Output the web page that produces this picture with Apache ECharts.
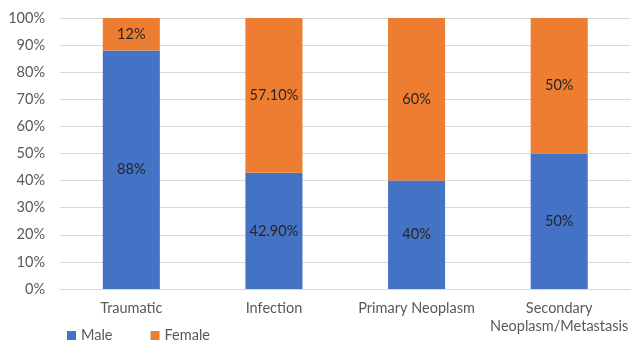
<!DOCTYPE html>
<html>
<head>
<meta charset="utf-8">
<script src="https://cdn.jsdelivr.net/npm/echarts@6/dist/echarts.min.js"></script>
<style>
  html, body { margin: 0; padding: 0; background: #fff; }
  #chart { width: 631px; height: 344px; }
</style>
</head>
<body>
<div id="chart"></div>
<script>
// Cause categories and share of patients by sex (percent)
const categories = ['Traumatic', 'Infection', 'Primary Neoplasm', 'Secondary\nNeoplasm/Metastasis'];
const maleValues = [88, 42.9, 40, 50];
const femaleValues = [12, 57.1, 60, 50];
const maleLabels = ['88%', '42.90%', '40%', '50%'];
const femaleLabels = ['12%', '57.10%', '60%', '50%'];
const yTicks = [0, 10, 20, 30, 40, 50, 60, 70, 80, 90, 100];

const FONT = 'Lato, "Open Sans", sans-serif';

const chart = echarts.init(document.getElementById('chart'), null, { renderer: 'canvas' });

function labelFrom(texts) {
  return {
    show: true,
    position: 'inside',
    color: '#262626',
    fontFamily: FONT,
    fontSize: 14.5,
    formatter: p => texts[p.dataIndex]
  };
}

chart.setOption({
  animation: false,
  grid: { left: 60, top: 18, width: 573, bottom: 55, containLabel: false },
  legend: {
    left: 62,
    top: 323,
    padding: [5, 5, 5, 5],
    itemWidth: 9,
    itemHeight: 9,
    itemGap: 38,
    icon: 'rect',
    textStyle: { color: '#595959', fontFamily: FONT, fontSize: 14.5 },
    data: ['Male', 'Female']
  },
  xAxis: {
    type: 'category',
    data: categories,
    axisLine: { lineStyle: { color: '#d9d9d9', width: 1 } },
    axisTick: { show: false },
    axisLabel: { color: '#595959', fontFamily: FONT, fontSize: 14.5, margin: 10, lineHeight: 18, interval: 0 }
  },
  yAxis: {
    type: 'value',
    min: yTicks[0],
    max: yTicks[yTicks.length - 1],
    interval: 10,
    axisLine: { show: false },
    axisTick: { show: false },
    splitLine: { lineStyle: { color: '#d9d9d9', width: 1 } },
    axisLabel: { color: '#595959', fontFamily: FONT, fontSize: 14.5, margin: 15, formatter: v => v + '%' }
  },
  series: [
    {
      name: 'Male',
      type: 'bar',
      stack: 'sex',
      barWidth: '40%',
      data: maleValues,
      itemStyle: { color: '#4472C4' },
      label: labelFrom(maleLabels)
    },
    {
      name: 'Female',
      type: 'bar',
      stack: 'sex',
      data: femaleValues,
      itemStyle: { color: '#ED7D31' },
      label: labelFrom(femaleLabels)
    }
  ]
});
</script>
</body>
</html>
